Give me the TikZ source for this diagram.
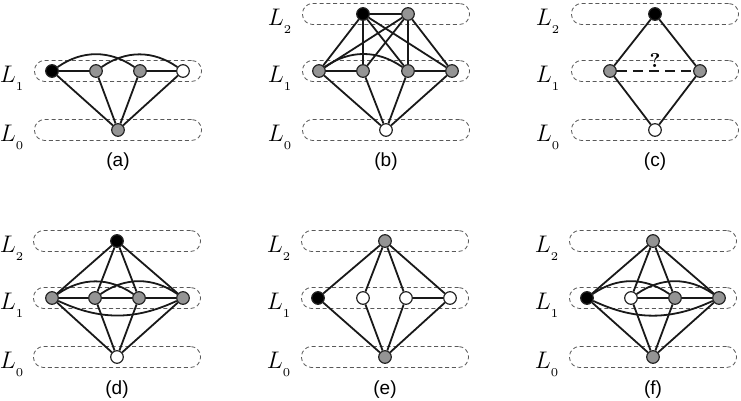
\documentclass[tikz,border=0pt]{standalone}
\usepackage{fontspec}
\newfontfamily\capfont{Liberation Sans}
\usetikzlibrary{calc, positioning}

\newcommand{\lev}[1]{$L_{\raisebox{-2pt}{$\scriptscriptstyle #1$}}$}

\begin{document}
\begin{tikzpicture}[x=0.5pt, y=0.5pt,
    layer/.style={draw=black!65, dash pattern=on 2pt off 1.4pt, rounded corners=5pt,
                  line width=0.4pt, minimum width=83.5pt, minimum height=10.5pt, inner sep=0pt},
    vtx/.style={circle, draw=black!85, line width=0.6pt, minimum size=6.3pt, inner sep=0pt},
    blk/.style={vtx, fill=black},
    gry/.style={vtx, fill=black!42},
    wht/.style={vtx, fill=white},
    lvl/.style={anchor=base, inner sep=0pt, font=\fontsize{11.5}{13}\selectfont},
    captxt/.style={font=\capfont\fontsize{9.5}{11}\selectfont},
    edge/.style={line width=0.9pt, black!90}
  ]
  \useasboundingbox (0,0) rectangle (741,401);

  % (a)
  \begin{scope}[shift={(118,0)}]
    \node[layer] (a1) at (0,330) {};
    \node[layer] (a0) at (0,271) {};
    \node[lvl] (la1) at (-106,318) {\lev{1}};
    \node[lvl] (la0) at (-106,259) {\lev{0}};
    \node[blk] (a11) at (-66,330) {};
    \node[gry] (a12) at (-22,330) {};
    \node[gry] (a13) at (22,330) {};
    \node[wht] (a14) at (65,330) {};
    \node[gry] (a01) at (0,271) {};
    \draw[edge] (a11) -- (a12);
    \draw[edge] (a13) -- (a14);
    \draw[edge] (a11) to[bend left=35] (a13);
    \draw[edge] (a12) to[bend left=35] (a14);
    \foreach \n in {1,...,4}
      \draw[edge] (a1\n) -- (a01);
    \node[captxt] (capa) at (0,239) {(a)};
  \end{scope}

  % (b)
  \begin{scope}[shift={(386,0)}]
    \node[layer] (b2) at (0,387) {};
    \node[layer] (b1) at (0,330) {};
    \node[layer] (b0) at (0,271) {};
    \node[lvl] (lb2) at (-106,375) {\lev{2}};
    \node[lvl] (lb1) at (-106,318) {\lev{1}};
    \node[lvl] (lb0) at (-106,259) {\lev{0}};
    \node[blk] (b21) at (-23,387) {};
    \node[gry] (b22) at (22,387) {};
    \node[gry] (b11) at (-67,330) {};
    \node[gry] (b12) at (-23,330) {};
    \node[gry] (b13) at (22,330) {};
    \node[gry] (b14) at (66,330) {};
    \node[wht] (b01) at (0,271) {};
    \draw[edge] (b21) -- (b22);
    \draw[edge] (b11) -- (b12);
    \draw[edge] (b13) -- (b14);
    \draw[edge] (b11) to[bend left=35] (b13);
    \foreach \n in {1,...,4} {
      \draw[edge] (b21) -- (b1\n);
      \draw[edge] (b22) -- (b1\n);
      \draw[edge] (b1\n) -- (b01);
    }
    \node[captxt] (capb) at (0,239) {(b)};
  \end{scope}

  % (c)
  \begin{scope}[shift={(655,0)}]
    \node[layer] (c2) at (0,387) {};
    \node[layer] (c1) at (0,330) {};
    \node[layer] (c0) at (0,271) {};
    \node[lvl] (lc2) at (-107,375) {\lev{2}};
    \node[lvl] (lc1) at (-107,318) {\lev{1}};
    \node[lvl] (lc0) at (-107,259) {\lev{0}};
    \node[blk] (c21) at (0,387) {};
    \node[gry] (c11) at (-45,330) {};
    \node[gry] (c12) at (45,330) {};
    \node[wht] (c01) at (0,271) {};
    \draw[edge] (c21) -- (c11);
    \draw[edge] (c21) -- (c12);
    \draw[edge] (c11) -- (c01);
    \draw[edge] (c12) -- (c01);
    \draw[edge, dash pattern=on 5pt off 3pt] (c11) -- (c12);
    \node[font=\normalsize\bfseries] (qc) at (0,340) {?};
    \node[captxt] (capc) at (0,239) {(c)};
  \end{scope}

  % (d)
  \begin{scope}[shift={(117,0)}]
    \node[layer] (d2) at (0,160) {};
    \node[layer] (d1) at (0,103) {};
    \node[layer] (d0) at (0,44) {};
    \node[lvl] (ld2) at (-105,148) {\lev{2}};
    \node[lvl] (ld1) at (-105,91) {\lev{1}};
    \node[lvl] (ld0) at (-105,32) {\lev{0}};
    \node[blk] (d21) at (0,160) {};
    \node[gry] (d11) at (-65,103) {};
    \node[gry] (d12) at (-22,103) {};
    \node[gry] (d13) at (22,103) {};
    \node[gry] (d14) at (66,103) {};
    \node[wht] (d01) at (0,44) {};
    \draw[edge] (d11) -- (d12) -- (d13) -- (d14);
    \draw[edge] (d11) to[bend left=35] (d13);
    \draw[edge] (d12) to[bend left=35] (d14);
    \draw[edge] (d11) to[bend right=25] (d14);
    \foreach \n in {1,...,4} {
      \draw[edge] (d21) -- (d1\n);
      \draw[edge] (d1\n) -- (d01);
    }
    \node[captxt] (capd) at (0,11) {(d)};
  \end{scope}

  % (e)
  \begin{scope}[shift={(385,0)}]
    \node[layer] (e2) at (0,160) {};
    \node[layer] (e1) at (0,103) {};
    \node[layer] (e0) at (0,44) {};
    \node[lvl] (le2) at (-106,148) {\lev{2}};
    \node[lvl] (le1) at (-106,91) {\lev{1}};
    \node[lvl] (le0) at (-106,32) {\lev{0}};
    \node[gry] (e21) at (0,160) {};
    \node[blk] (e11) at (-67,103) {};
    \node[wht] (e12) at (-22,103) {};
    \node[wht] (e13) at (21,103) {};
    \node[wht] (e14) at (65,103) {};
    \node[gry] (e01) at (0,44) {};
    \draw[edge] (e13) -- (e14);
    \foreach \n in {1,...,4} {
      \draw[edge] (e21) -- (e1\n);
      \draw[edge] (e1\n) -- (e01);
    }
    \node[captxt] (cape) at (0,11) {(e)};
  \end{scope}

  % (f)
  \begin{scope}[shift={(653,0)}]
    \node[layer] (f2) at (0,160) {};
    \node[layer] (f1) at (0,103) {};
    \node[layer] (f0) at (0,44) {};
    \node[lvl] (lf2) at (-106,148) {\lev{2}};
    \node[lvl] (lf1) at (-106,91) {\lev{1}};
    \node[lvl] (lf0) at (-106,32) {\lev{0}};
    \node[gry] (f21) at (0,160) {};
    \node[blk] (f11) at (-66,103) {};
    \node[wht] (f12) at (-22,103) {};
    \node[gry] (f13) at (22,103) {};
    \node[gry] (f14) at (66,103) {};
    \node[gry] (f01) at (0,44) {};
    \draw[edge] (f12) -- (f13) -- (f14);
    \draw[edge] (f11) to[bend left=35] (f13);
    \draw[edge] (f12) to[bend left=35] (f14);
    \draw[edge] (f11) to[bend right=25] (f14);
    \foreach \n in {1,...,4} {
      \draw[edge] (f21) -- (f1\n);
      \draw[edge] (f1\n) -- (f01);
    }
    \node[captxt] (capf) at (0,11) {(f)};
  \end{scope}
\end{tikzpicture}
\end{document}
